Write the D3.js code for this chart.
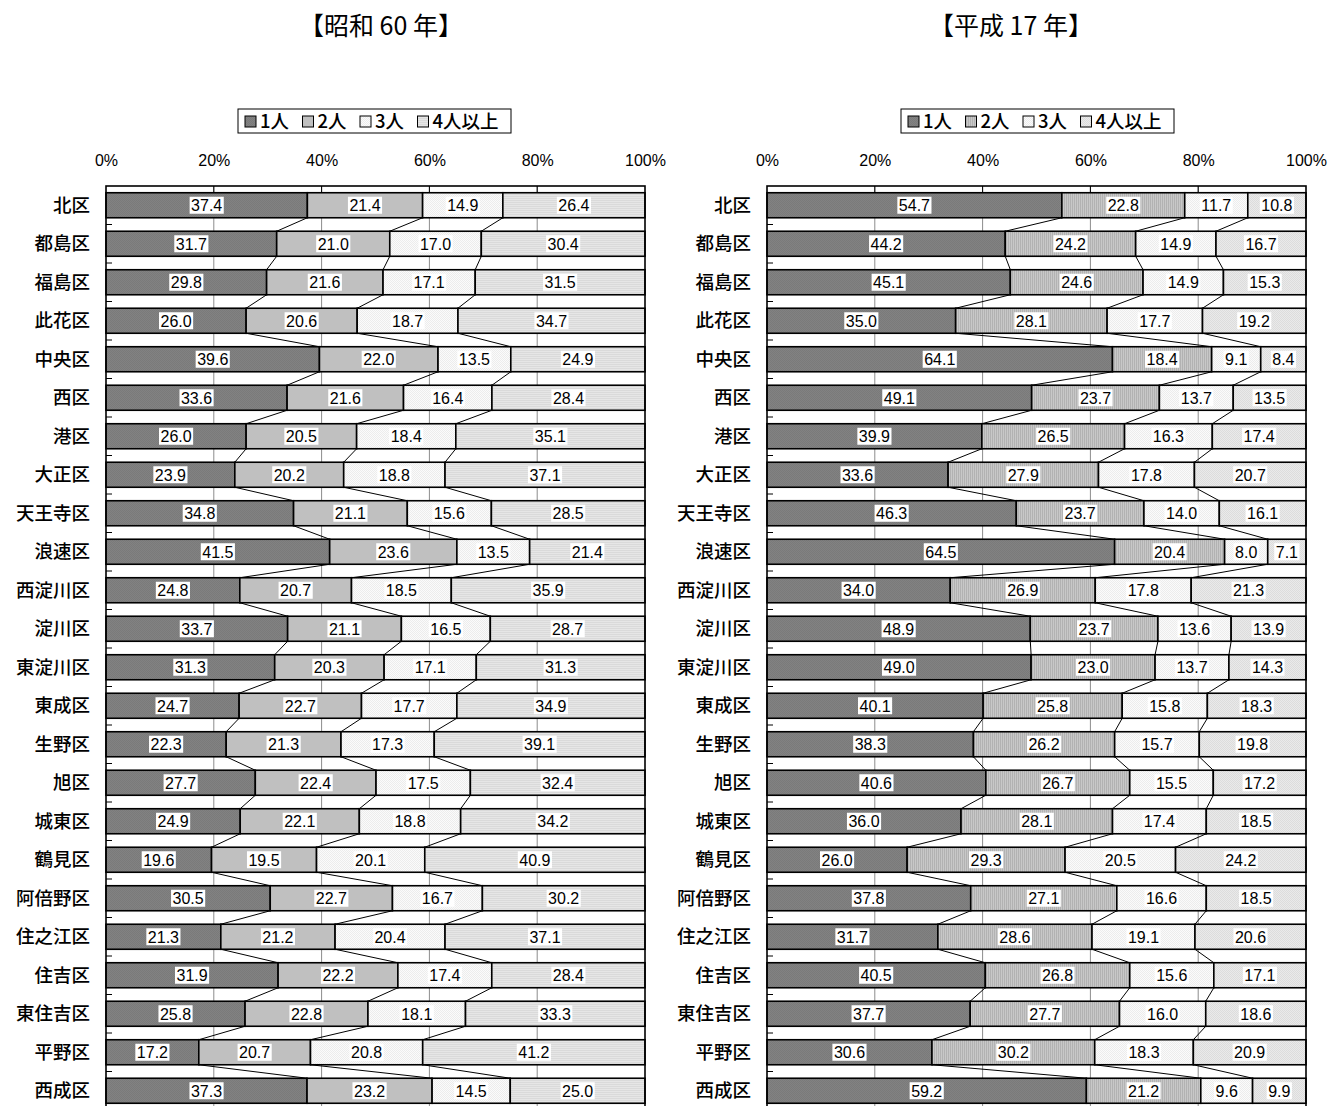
<!DOCTYPE html>
<html>
<head>
<meta charset="utf-8">
<script src="https://cdn.jsdelivr.net/npm/d3@7"></script>
<style>
body { margin: 0; background: #fff; }
svg { display: block; }
</style>
</head>
<body>
<script>
// 区名
var districts = ["北区", "都島区", "福島区", "此花区", "中央区", "西区", "港区", "大正区",
    "天王寺区", "浪速区", "西淀川区", "淀川区", "東淀川区", "東成区", "生野区", "旭区",
    "城東区", "鶴見区", "阿倍野区", "住之江区", "住吉区", "東住吉区", "平野区", "西成区"];

var seriesNames = ["1人", "2人", "3人", "4人以上"];
var tickLabels = ["0%", "20%", "40%", "60%", "80%", "100%"];

// 昭和60年 [1人, 2人, 3人, 4人以上]
var showa60 = [
    [37.4, 21.4, 14.9, 26.4], [31.7, 21.0, 17.0, 30.4], [29.8, 21.6, 17.1, 31.5],
    [26.0, 20.6, 18.7, 34.7], [39.6, 22.0, 13.5, 24.9], [33.6, 21.6, 16.4, 28.4],
    [26.0, 20.5, 18.4, 35.1], [23.9, 20.2, 18.8, 37.1], [34.8, 21.1, 15.6, 28.5],
    [41.5, 23.6, 13.5, 21.4], [24.8, 20.7, 18.5, 35.9], [33.7, 21.1, 16.5, 28.7],
    [31.3, 20.3, 17.1, 31.3], [24.7, 22.7, 17.7, 34.9], [22.3, 21.3, 17.3, 39.1],
    [27.7, 22.4, 17.5, 32.4], [24.9, 22.1, 18.8, 34.2], [19.6, 19.5, 20.1, 40.9],
    [30.5, 22.7, 16.7, 30.2], [21.3, 21.2, 20.4, 37.1], [31.9, 22.2, 17.4, 28.4],
    [25.8, 22.8, 18.1, 33.3], [17.2, 20.7, 20.8, 41.2], [37.3, 23.2, 14.5, 25.0]
];

// 平成17年
var heisei17 = [
    [54.7, 22.8, 11.7, 10.8], [44.2, 24.2, 14.9, 16.7], [45.1, 24.6, 14.9, 15.3],
    [35.0, 28.1, 17.7, 19.2], [64.1, 18.4, 9.1, 8.4], [49.1, 23.7, 13.7, 13.5],
    [39.9, 26.5, 16.3, 17.4], [33.6, 27.9, 17.8, 20.7], [46.3, 23.7, 14.0, 16.1],
    [64.5, 20.4, 8.0, 7.1], [34.0, 26.9, 17.8, 21.3], [48.9, 23.7, 13.6, 13.9],
    [49.0, 23.0, 13.7, 14.3], [40.1, 25.8, 15.8, 18.3], [38.3, 26.2, 15.7, 19.8],
    [40.6, 26.7, 15.5, 17.2], [36.0, 28.1, 17.4, 18.5], [26.0, 29.3, 20.5, 24.2],
    [37.8, 27.1, 16.6, 18.5], [31.7, 28.6, 19.1, 20.6], [40.5, 26.8, 15.6, 17.1],
    [37.7, 27.7, 16.0, 18.6], [30.6, 30.2, 18.3, 20.9], [59.2, 21.2, 9.6, 9.9]
];

var W = 1343, H = 1106;
var svg = d3.select("body").append("svg").attr("width", W).attr("height", H);
var defs = svg.append("defs");

// patterns
function pat(id, bg, fg, kind) {
    var p = defs.append("pattern").attr("id", id).attr("patternUnits", "userSpaceOnUse")
        .attr("width", 2).attr("height", 2);
    p.append("rect").attr("width", 2).attr("height", 2).attr("fill", bg);
    if (kind == "h") p.append("rect").attr("width", 2).attr("height", 1).attr("fill", fg);
    else if (kind == "v") p.append("rect").attr("width", 1).attr("height", 2).attr("fill", fg);
    else if (kind == "d") {
        p.append("rect").attr("width", 1).attr("height", 1).attr("fill", fg);
        p.append("rect").attr("x", 1).attr("y", 1).attr("width", 1).attr("height", 1).attr("fill", fg);
    }
    return "url(#" + id + ")";
}
var p1 = pat("p1", "#828282", "#7a7a7a", "d");
var p2a = "#c0c0c0";
var p3 = pat("p3", "#fbfbfb", "#ececec", "d");
var p4a = pat("p4a", "#e6e6e6", "#dadada", "h");
var p2b = pat("p2b", "#c8c8c8", "#b2b2b2", "v");
var p4b = pat("p4b", "#eaeaea", "#dcdcdc", "d");

var numFont = "'Liberation Sans', Arial, sans-serif";
var jpFont = "'Noto Sans CJK JP', sans-serif";

function drawPanel(opt) {
    var g = svg.append("g");
    var x = d3.scaleLinear().domain([0, 1]).range([opt.x0, opt.x0 + 539]);
    var y = d3.scaleBand().domain(districts).range([186, 186 + 24 * 38.5])
        .paddingInner(0.35).paddingOuter(0.175);
    var bw = y.bandwidth();

    var rows = opt.data.map(function (d, i) {
        var o = { name: districts[i] };
        seriesNames.forEach(function (s, j) { o[s] = d[j]; });
        return o;
    });
    var stack = d3.stack().keys(seriesNames).offset(d3.stackOffsetExpand)(rows);

    // title
    g.append("text").attr("x", opt.titleX).attr("y", 35).attr("text-anchor", "middle")
        .attr("font-family", jpFont).attr("font-size", 25).text(opt.title);

    // legend
    var lg = g.append("g");
    lg.append("rect").attr("x", opt.legendX).attr("y", 109)
        .attr("width", 273).attr("height", 24).attr("fill", "#fff")
        .attr("stroke", "#000").attr("stroke-width", 1);
    seriesNames.forEach(function (s, j) {
        var lx = opt.legendX + 7 + j * 57.5;
        lg.append("rect").attr("x", lx).attr("y", 116).attr("width", 11).attr("height", 11)
            .attr("fill", opt.fills[j]).attr("stroke", "#000").attr("stroke-width", 1);
        lg.append("text").attr("x", lx + 15).attr("y", 128)
            .attr("font-family", jpFont).attr("font-size", 18.5).attr("font-weight", 500).text(s);
    });

    // gridlines
    g.selectAll(".grid").data([0.2, 0.4, 0.6, 0.8]).enter().append("line")
        .attr("x1", function (d) { return x(d); }).attr("x2", function (d) { return x(d); })
        .attr("y1", 186).attr("y2", H).attr("stroke", "#8c8c8c").attr("stroke-width", 1);

    // top axis
    var xAxis = d3.axisTop(x).tickValues([0, 0.2, 0.4, 0.6, 0.8, 1])
        .tickFormat(function (d, i) { return tickLabels[i]; }).tickSize(0).tickPadding(20);
    var ax = g.append("g").attr("transform", "translate(0,186)").call(xAxis);
    ax.select(".domain").remove();
    ax.selectAll("text").attr("font-family", numFont).attr("font-size", 16).attr("fill", "#000");
    g.selectAll(".tt").data([0.2, 0.4, 0.6, 0.8]).enter().append("line")
        .attr("x1", function (d) { return x(d); }).attr("x2", function (d) { return x(d); })
        .attr("y1", 186).attr("y2", 193).attr("stroke", "#000").attr("stroke-width", 1);

    // bars
    stack.forEach(function (layer, j) {
        g.append("g").selectAll("rect").data(layer).enter().append("rect")
            .attr("x", function (d) { return x(d[0]); })
            .attr("y", function (d) { return y(d.data.name); })
            .attr("width", function (d) { return x(d[1]) - x(d[0]); })
            .attr("height", bw)
            .attr("fill", opt.fills[j]).attr("stroke", "#000").attr("stroke-width", 1.6);
    });

    // series lines
    for (var j = 0; j < 3; j++) {
        var layer = stack[j];
        for (var i = 0; i < layer.length - 1; i++) {
            g.append("line")
                .attr("x1", x(layer[i][1])).attr("y1", y(districts[i]) + bw)
                .attr("x2", x(layer[i + 1][1])).attr("y2", y(districts[i + 1]))
                .attr("stroke", "#000").attr("stroke-width", 1);
        }
    }

    // data labels
    stack.forEach(function (layer, j) {
        layer.forEach(function (d, i) {
            var cx = (x(d[0]) + x(d[1])) / 2, cy = y(d.data.name) + bw / 2;
            var lbl = g.append("g");
            var t = lbl.append("text").attr("x", cx).attr("y", cy + 6).attr("text-anchor", "middle")
                .attr("font-family", numFont).attr("font-size", 16)
                .text(opt.data[i][j].toFixed(1));
            var w = t.node().getComputedTextLength();
            lbl.insert("rect", "text").attr("x", cx - w / 2 - 1.5).attr("y", cy - 8.5)
                .attr("width", w + 3).attr("height", 17).attr("fill", "#fff");
        });
    });

    // category ticks
    g.selectAll(".ct").data(districts.slice(1)).enter().append("line")
        .attr("x1", opt.x0).attr("x2", opt.x0 + 6)
        .attr("y1", function (d) { return y(d) - y.step() * 0.175; })
        .attr("y2", function (d) { return y(d) - y.step() * 0.175; })
        .attr("stroke", "#000").attr("stroke-width", 1);

    // frame
    g.append("rect").attr("x", opt.x0).attr("y", 186).attr("width", 539).attr("height", 930)
        .attr("fill", "none").attr("stroke", "#000").attr("stroke-width", 1.6);

    // category labels
    g.selectAll(".cl").data(districts).enter().append("text")
        .attr("x", opt.x0 - 16).attr("y", function (d) { return y(d) + bw / 2 + 6.5; })
        .attr("text-anchor", "end").attr("font-family", jpFont).attr("font-size", 18.5)
        .attr("font-weight", 500).text(function (d) { return d; });
}

drawPanel({ x0: 106, data: showa60, title: "【昭和 60 年】", titleX: 381, legendX: 238,
    fills: [p1, p2a, p3, p4a] });
drawPanel({ x0: 767, data: heisei17, title: "【平成 17 年】", titleX: 1011, legendX: 901,
    fills: [p1, p2b, p3, p4b] });
</script>
</body>
</html>
